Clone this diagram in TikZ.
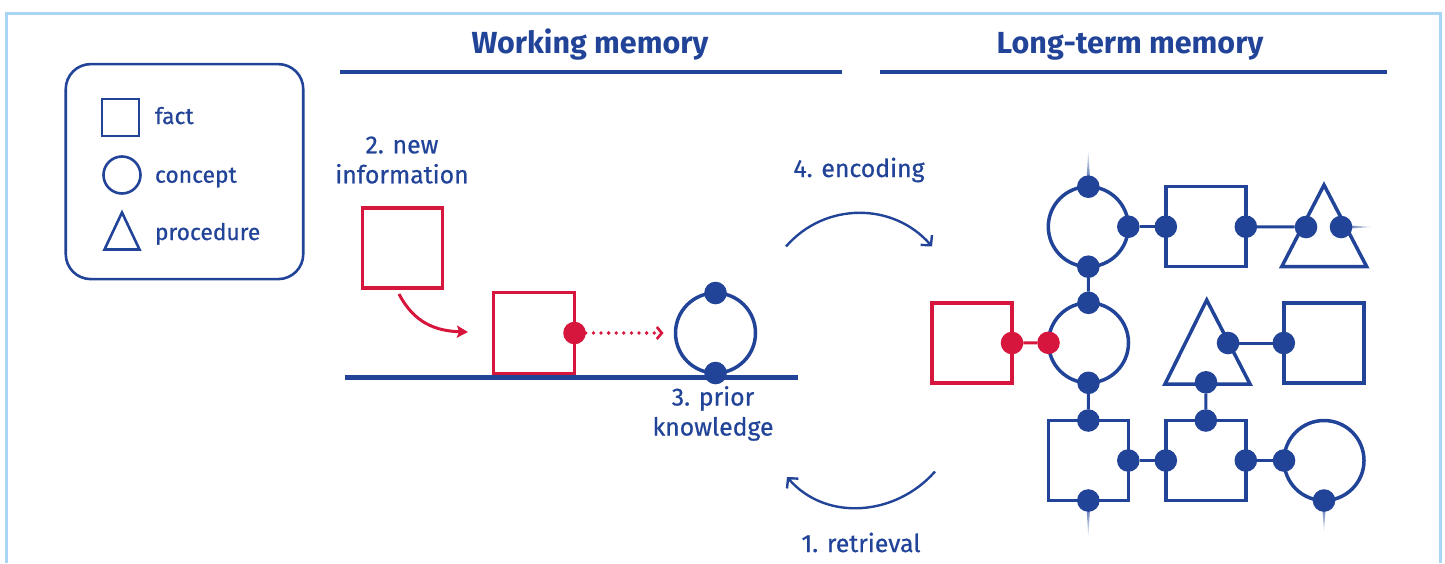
\documentclass[tikz,border=0pt]{standalone}
\usepackage{fontspec}
\setmainfont{Fira Sans}
\newfontfamily\medfont{Fira Sans}[FakeBold=0.6]
\usetikzlibrary{arrows.meta}
\definecolor{navy}{RGB}{34,68,152}
\definecolor{crim}{RGB}{214,22,60}
\definecolor{framec}{RGB}{168,212,245}
\begin{document}
\begin{tikzpicture}[x=1pt,y=-1pt,
  every node/.style={inner sep=0pt,outer sep=0pt},
  txt/.style={text=navy,font=\medfont\fontsize{24.8}{30}\selectfont,align=center},
  legtxt/.style={text=navy,font=\medfont\fontsize{22.8}{30}\selectfont},
  head/.style={text=navy,font=\fontsize{30.5}{34}\selectfont\bfseries},
  fact/.style={draw=navy,line width=3.5pt,minimum size=80pt},
  redfact/.style={fact,draw=crim},
  concept/.style={circle,draw=navy,line width=3.5pt,minimum size=80pt},
  proc/.style={draw=navy,line width=3.5pt,line join=miter},
  leg/.style={draw=navy,line width=2.6pt},
  dot/.style={circle,fill=navy,minimum size=22.6pt},
  reddot/.style={dot,fill=crim},
  conn/.style={draw=navy,line width=3pt},
  rconn/.style={draw=crim,line width=3pt},
  arc/.style={draw=navy,line width=2.4pt,-{Straight Barb[length=7pt,width=15pt,line width=2.4pt]}},
  rule/.style={draw=navy,line width=4.5pt},
]
\useasboundingbox (0,0) rectangle (1445,563);
% frame
\draw[framec,line width=3pt] (6.7,563) -- (6.7,13.8) -- (1440,13.8) -- (1440,563);

% headings
\node[head,anchor=base] (wmh) at (590,53) {Working memory};
\node[head,anchor=base] (ltmh) at (1130,53) {Long-term memory};
\draw[rule] (340,72) -- (841.5,72);
\draw[rule] (880,72) -- (1387,72);

% legend
\node[leg,rounded corners=25pt,minimum width=237.5pt,minimum height=215pt] (legend) at (184.5,171.6) {};
\node[leg,minimum size=37pt] (lfact) at (120.5,117.5) {};
\node[leg,circle,minimum size=37pt] (lconc) at (122,175) {};
\draw[leg,line join=miter] (122,212.5) -- (139.5,249.5) -- (104.5,249.5) -- cycle;
\node[legtxt,anchor=base west] (tfact) at (155,124) {fact};
\node[legtxt,anchor=base west] (tconc) at (155,182.7) {concept};
\node[legtxt,anchor=base west] (tproc) at (155,240) {procedure};

% working memory
\node[txt,anchor=base] (tnew) at (402,183.3) {2. new\\information};
\node[redfact] (n1) at (402.5,248) {};
\node[redfact,minimum size=81pt] (n2) at (534,333) {};
\node[reddot] (n2d) at (n2.east) {};
\coordinate (a1s) at (399,294);
\coordinate (a1e) at (468,332);
\draw[rconn,-{Stealth[length=11pt,width=12pt,inset=2pt]}] (a1s) .. controls (414,323) and (436,331) .. (a1e);
\draw[rule] (345,377.7) -- (798,377.7);
\node[concept] (pk) at (715.5,333) {};
\node[dot] (pkn) at (pk.north) {};
\node[dot] (pks) at (pk.south) {};
\coordinate (dend) at (663.5,333);
\draw[crim,line width=3.8pt,line cap=round,dash pattern=on 0pt off 7.6pt,
  -{Straight Barb[length=5pt,width=12pt,line width=2.6pt]}] (n2d) -- (dend);
\node[txt,anchor=base] (tprior) at (713,435.5) {3. prior\\knowledge};

% encoding / retrieval
\node[txt,anchor=base] (tenc) at (859,177) {4. encoding};
\coordinate (e1) at (786,246.5);
\coordinate (e2) at (932,246.5);
\draw[arc] (e1) .. controls (824.7,201.9) and (893.3,201.9) .. (e2);
\coordinate (r1) at (935,471.5);
\coordinate (r2) at (787,477);
\draw[arc] (r1) .. controls (896,516) and (826,522) .. (r2);
\node[txt,anchor=base] (tret) at (861,552) {1. retrieval};

% long-term memory network: shapes
\node[concept] (A) at (1088.3,226.7) {};
\node[fact] (B) at (1205.8,226.7) {};
\draw[proc] (1324,185) -- (1366.7,266.7) -- (1281.7,266.7) -- cycle;
\node[concept] (D) at (1088.5,342.8) {};
\node[redfact] (E) at (972,343) {};
\draw[proc] (1206.7,300) -- (1250,384) -- (1165,384) -- cycle;
\node[fact] (G) at (1323.8,343) {};
\node[fact] (H) at (1088.3,460.5) {};
\node[fact] (I) at (1205.8,460.5) {};
\node[concept] (J) at (1324,460.5) {};

% fading spikes
\shade[top color=white,bottom color=navy] (1086,190) -- (1088.3,148) -- (1090.6,190) -- cycle;
\shade[left color=navy,right color=white] (1337,224.7) -- (1374,227) -- (1337,229.3) -- cycle;
\shade[top color=navy,bottom color=white] (1086,497) -- (1088.3,539) -- (1090.6,497) -- cycle;
\shade[top color=navy,bottom color=white] (1321.7,497) -- (1324,534) -- (1326.3,497) -- cycle;

% dots
\node[dot] (An) at (A.north) {};
\node[dot] (Ae) at (A.east) {};
\node[dot] (As) at (A.south) {};
\node[dot] (Bw) at (B.west) {};
\node[dot] (Be) at (B.east) {};
\node[dot] (Cl) at (1306,227) {};
\node[dot] (Cr) at (1341,227) {};
\node[dot] (Dn) at (D.north) {};
\node[dot] (Ds) at (D.south) {};
\node[reddot] (Dw) at (D.west) {};
\node[reddot] (Ee) at (E.east) {};
\node[dot] (Fr) at (1228,343) {};
\node[dot] (Fb) at (1206,382.3) {};
\node[dot] (Gw) at (G.west) {};
\node[dot] (Hn) at (H.north) {};
\node[dot] (He) at (H.east) {};
\node[dot] (Hs) at (H.south) {};
\node[dot] (In) at (I.north) {};
\node[dot] (Iw) at (I.west) {};
\node[dot] (Ie) at (I.east) {};
\node[dot] (Jw) at (J.west) {};
\node[dot] (Js) at (J.south) {};

% connectors
\draw[conn] (Ae) -- (Bw);
\draw[conn] (Be) -- (Cl);
\draw[conn] (As) -- (Dn);
\draw[rconn] (Ee) -- (Dw);
\draw[conn] (Fr) -- (Gw);
\draw[conn] (Ds) -- (Hn);
\draw[conn] (He) -- (Iw);
\draw[conn] (Fb) -- (In);
\draw[conn] (Ie) -- (Jw);
\end{tikzpicture}
\end{document}
